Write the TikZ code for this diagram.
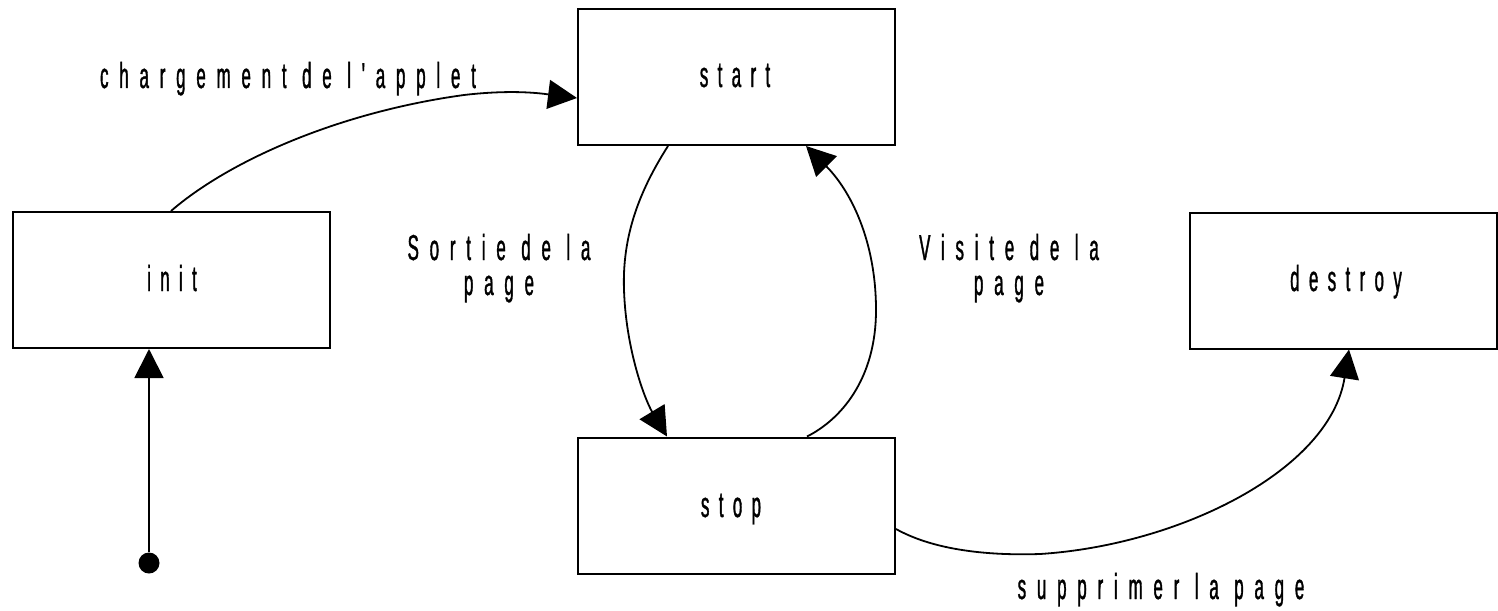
\documentclass[tikz,border=0pt]{standalone}
\usepackage{fontspec}
\newfontfamily\boxfont[FakeStretch=0.47,LetterSpace=26,FakeBold=1]{Liberation Sans}
\newfontfamily\labfont[FakeStretch=0.47,LetterSpace=30,FakeBold=1]{Liberation Sans}
\usetikzlibrary{arrows.meta}
\begin{document}
\begin{tikzpicture}[x=1pt,y=-1pt,
  box/.style={draw,line width=2pt,minimum width=317pt,minimum height=136pt,inner sep=0pt},
  boxlbl/.style={font=\boxfont\fontsize{36}{35}\selectfont,inner sep=0pt,anchor=base},
  lbl/.style={font=\labfont\fontsize{36}{35}\selectfont,inner sep=0pt,align=center,anchor=base},
  conn/.style={line width=1.8pt,-{Triangle[length=29pt,width=29pt]}},
  dotnode/.style={circle,fill,minimum size=21pt,inner sep=0pt}
]
\useasboundingbox (0,0) rectangle (1498,610);
% boxes
\node[box] (start) at (736.5,77) {};
\node[box] (init) at (171,280) {};
\node[box,minimum width=307pt] (destroy) at (1343.5,280.5) {};
\node[box] (stop) at (736.5,505.5) {};
% box texts
\node[boxlbl] (tstart) at (735,87) {start};
\node[boxlbl] (tinit) at (172,291) {init};
\node[boxlbl] (tdestroy) at (1346,291) {destroy};
\node[boxlbl] (tstop) at (731,517) {stop};
% connector labels
\node[lbl] (tcharge) at (288,88) {chargement de l'applet};
\node[lbl] (tsortie) at (499,295) {Sortie de la\\page};
\node[lbl] (tvisite) at (1009,295) {Visite de la\\page};
\node[lbl] (tsupp) at (1161,599) {supprimer la page};
% initial dot
\node[dotnode] (dot) at (149,563) {};
% connectors
\draw[conn] (dot.north) -- (dot.north |- init.south);
\draw[conn] (init.north) .. controls (230,160) and (340,112) .. (464,95)
  .. controls (515,89) and (545,94) .. ([yshift=-21pt]start.west);
\draw[conn] ([xshift=-68.5pt]start.south) .. controls (640,190) and (622,235) .. (624,290)
  .. controls (626,350) and (645,400) .. ([xshift=-69.5pt]stop.north);
\draw[conn] ([xshift=70.5pt]stop.north) .. controls (840,420) and (876,380) .. (876,310)
  .. controls (876,240) and (850,190) .. ([xshift=69.5pt]start.south);
\draw[conn] ([yshift=-23.5pt]stop.east) .. controls (930,548) and (980,556) .. (1040,554)
  .. controls (1180,545) and (1330,470) .. ([xshift=5.5pt]destroy.south);
\end{tikzpicture}
\end{document}
